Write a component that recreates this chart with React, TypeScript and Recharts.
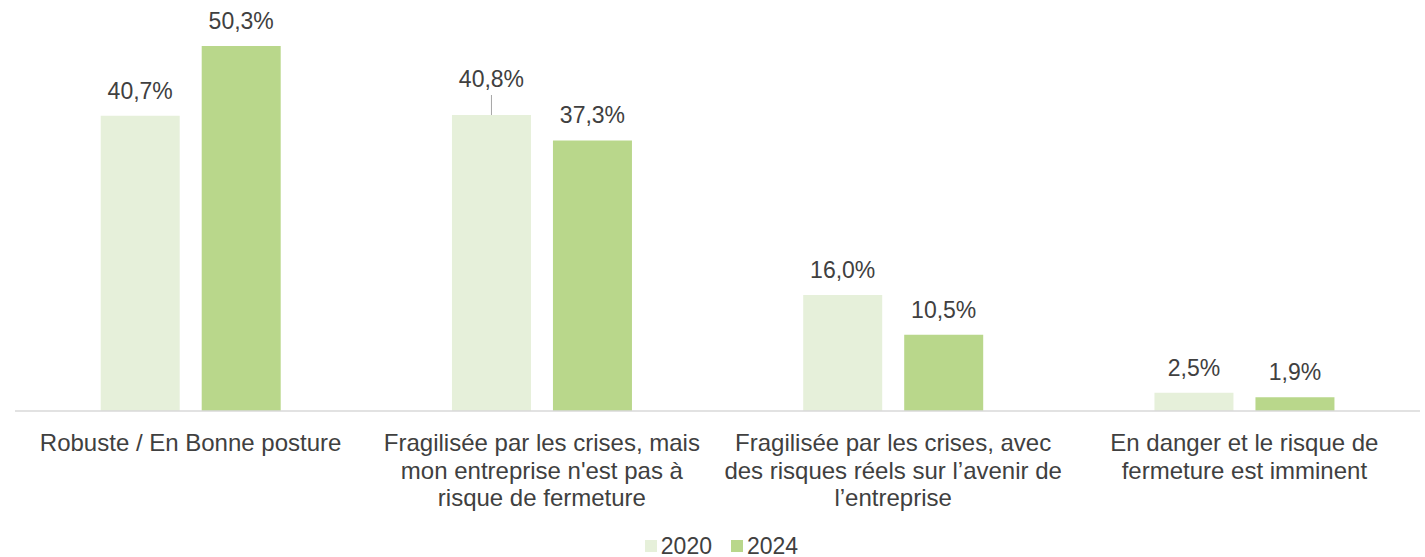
import React from "react";
import { BarChart, Bar, XAxis, YAxis, LabelList, Legend } from "recharts";

const categories = [
  ["Robuste / En Bonne posture"],
  ["Fragilisée par les crises, mais", "mon entreprise n'est pas à", "risque de fermeture"],
  ["Fragilisée par les crises, avec", "des risques réels sur l’avenir de", "l’entreprise"],
  ["En danger et le risque de", "fermeture est imminent"],
];
const values2020 = [40.7, 40.8, 16.0, 2.5];
const values2024 = [50.3, 37.3, 10.5, 1.9];
const seriesNames = ["2020", "2024"];

const data = categories.map((c, i) => ({
  name: c.join("\n"),
  v2020: values2020[i],
  v2024: values2024[i],
}));

const TEXT = "#404040";
const C2020 = "#E6F0DA";
const C2024 = "#B9D78B";
const FONT = "'Liberation Sans', Arial, sans-serif";

const fmt = (v: number) => v.toFixed(1).replace(".", ",") + "%";

const Tick = (props: any) => {
  const { x, y, payload } = props;
  const lines = String(payload.value).split("\n");
  return (
    <g>
      {lines.map((l: string, i: number) => (
        <text key={i} x={x} y={y + 32 + i * 27.5} textAnchor="middle" fill={TEXT} fontSize={24} fontFamily={FONT}>
          {l}
        </text>
      ))}
    </g>
  );
};

const makeLabel = (lifted: number[]) => (props: any) => {
  const { x, y, width, value, index } = props;
  const cx = x + width / 2;
  if (lifted.includes(index)) {
    return (
      <g>
        <line x1={cx} y1={y - 20} x2={cx} y2={y} stroke="#A6A6A6" strokeWidth={1} />
        <text x={cx} y={y - 28} textAnchor="middle" fill={TEXT} fontSize={23} fontFamily={FONT}>
          {fmt(value)}
        </text>
      </g>
    );
  }
  return (
    <text x={cx} y={y - 17} textAnchor="middle" fill={TEXT} fontSize={23} fontFamily={FONT}>
      {fmt(value)}
    </text>
  );
};

const LegendContent = () => (
  <div style={{ display: "flex", justifyContent: "center", fontFamily: FONT, fontSize: 23, lineHeight: "20px", height: 20, color: TEXT, paddingLeft: 8 }}>
    {[C2020, C2024].map((c, i) => (
      <div key={i} style={{ display: "flex", alignItems: "center", marginRight: i === 0 ? 19 : 0 }}>
        <div style={{ width: 12, height: 12, background: c, marginRight: 4 }} />
        <span>{seriesNames[i]}</span>
      </div>
    ))}
  </div>
);

export default function App() {
  return (
    <div style={{ position: "absolute", left: 0, top: 0, background: "#fff" }}>
      <BarChart
        width={1425}
        height={557}
        data={data}
        margin={{ top: 12, right: 5, left: 15, bottom: 4 }}
        barCategoryGap="24.4%"
        barGap={22}
      >
        <XAxis
          dataKey="name"
          tick={<Tick />}
          tickLine={false}
          axisLine={{ stroke: "#D9D9D9", strokeWidth: 1.5 }}
          interval={0}
          height={112}
        />
        <YAxis hide domain={[0, 55]} />
        <Legend verticalAlign="bottom" height={30} wrapperStyle={{ top: 536, bottom: "auto" }} content={<LegendContent />} />
        <Bar dataKey="v2020" name="2020" fill={C2020} isAnimationActive={false}>
          <LabelList dataKey="v2020" content={makeLabel([1])} />
        </Bar>
        <Bar dataKey="v2024" name="2024" fill={C2024} isAnimationActive={false}>
          <LabelList dataKey="v2024" content={makeLabel([])} />
        </Bar>
      </BarChart>
    </div>
  );
}
